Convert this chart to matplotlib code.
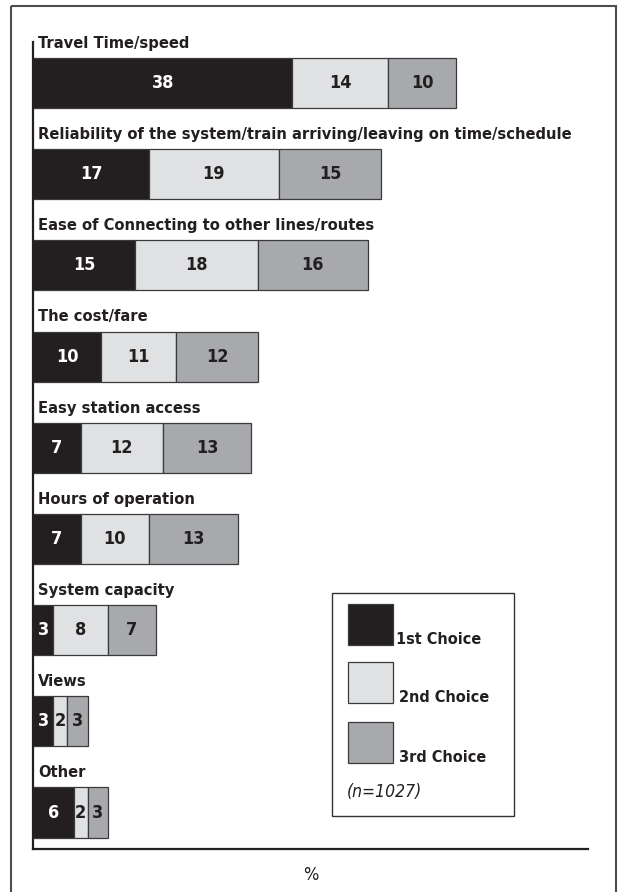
import os
import matplotlib
matplotlib.use('Agg')
import matplotlib.pyplot as plt
from matplotlib import font_manager
from matplotlib.font_manager import FontProperties
from matplotlib.patches import Rectangle

categories = [
    'Travel Time/speed',
    'Reliability of the system/train arriving/leaving on time/schedule',
    'Ease of Connecting to other lines/routes',
    'The cost/fare',
    'Easy station access',
    'Hours of operation',
    'System capacity',
    'Views',
    'Other',
]
first_choice = [38, 17, 15, 10, 7, 7, 3, 3, 6]
second_choice = [14, 19, 18, 11, 12, 10, 8, 2, 2]
third_choice = [10, 15, 16, 12, 13, 13, 7, 3, 3]
series_names = ['1st Choice', '2nd Choice', '3rd Choice']
sample_note = '(n=1027)'

colors = ['#231f20', '#e0e1e3', '#a7a9ac']
text_colors = ['white', '#231f20', '#231f20']


def pick(patterns):
    # first installed font file whose name matches one of the patterns
    files = [f.fname for f in font_manager.fontManager.ttflist]
    for p in patterns:
        for path in files:
            if os.path.basename(path).lower().startswith(p):
                return path
    return None


bold_file = pick(['liberationsansnarrow-bold.', 'dejavusanscondensed-bold.',
                  'notosans-condensedbold.', 'robotocondensed-bold.',
                  'opensans-condensedbold.', 'roboto-bold.'])
ital_file = pick(['liberationsansnarrow-italic.', 'dejavusanscondensed-oblique.',
                  'notosans-condenseditalic.', 'robotocondensed-italic.',
                  'roboto-italic.'])
reg_file = pick(['liberationsansnarrow-regular.', 'dejavusanscondensed.',
                 'notosans-condensed.', 'robotocondensed-regular.',
                 'roboto-regular.'])


def fp(path, size, **kw):
    if path:
        return FontProperties(fname=path, size=size)
    return FontProperties(family='DejaVu Sans', size=size * 0.85, **kw)


W, H = 620, 892
fig = plt.figure(figsize=(W / 100, H / 100), dpi=100)


def px_box(x0, y0, x1, y1):
    return [x0 / W, 1 - y1 / H, (x1 - x0) / W, (y1 - y0) / H]


ax = fig.add_axes(px_box(33, 42, 588, 849))
n = len(categories)
ypos = list(range(n))
bar_h = 0.55

num_font = fp(bold_file, 13, weight='bold')
cat_font = fp(bold_file, 11.8, weight='bold')
leg_font = fp(bold_file, 11.6, weight='bold')

left = [0] * n
for series, col, tcol in zip([first_choice, second_choice, third_choice], colors, text_colors):
    ax.barh(ypos, series, left=left, height=bar_h, color=col,
            edgecolor='#3a3a3a', linewidth=0.9)
    for y, l, v in zip(ypos, left, series):
        ax.text(l + v / 2, y, str(v), ha='center', va='center', color=tcol,
                fontproperties=num_font)
    left = [a + b for a, b in zip(left, series)]

for y, cat in zip(ypos, categories):
    ax.text(0.7, y - bar_h / 2 - 0.11, cat, ha='left', va='baseline',
            fontproperties=cat_font, color='#231f20')

ax.set_xlim(0, 81.3)
ax.set_ylim(n - 1 + 0.4, -0.45)
ax.set_xticks([])
ax.set_yticks([])
for s in ['top', 'right']:
    ax.spines[s].set_visible(False)
for s in ['left', 'bottom']:
    ax.spines[s].set_linewidth(1.6)
    ax.spines[s].set_color('#231f20')
ax.set_xlabel('%', fontproperties=fp(reg_file, 13), labelpad=12, color='#231f20')

# overlay in pixel units for the frame and the legend box
ov = fig.add_axes([0, 0, 1, 1], zorder=5)
ov.set_xlim(0, W)
ov.set_ylim(H, 0)
ov.axis('off')
ov.patch.set_alpha(0)
ov.add_patch(Rectangle((11, 6), 605, 900, fill=False, edgecolor='#4d4d4d', linewidth=1.5))

ov.add_patch(Rectangle((332, 593), 182, 223, facecolor='white', edgecolor='#333333', linewidth=1.0))
sw_top = [604, 662, 722]
txt_x = [396, 399, 399]
for top, col, name, tx in zip(sw_top, colors, series_names, txt_x):
    ov.add_patch(Rectangle((348, top), 45, 41, facecolor=col, edgecolor='#3a3a3a', linewidth=0.9))
    ov.text(tx, top + 40, name, ha='left', va='baseline',
            fontproperties=leg_font, color='#231f20')
ov.text(347, 797, sample_note, ha='left', va='baseline',
        fontproperties=fp(ital_file, 12.5, style='italic'), color='#231f20')

fig.savefig('out.png', dpi=100)
